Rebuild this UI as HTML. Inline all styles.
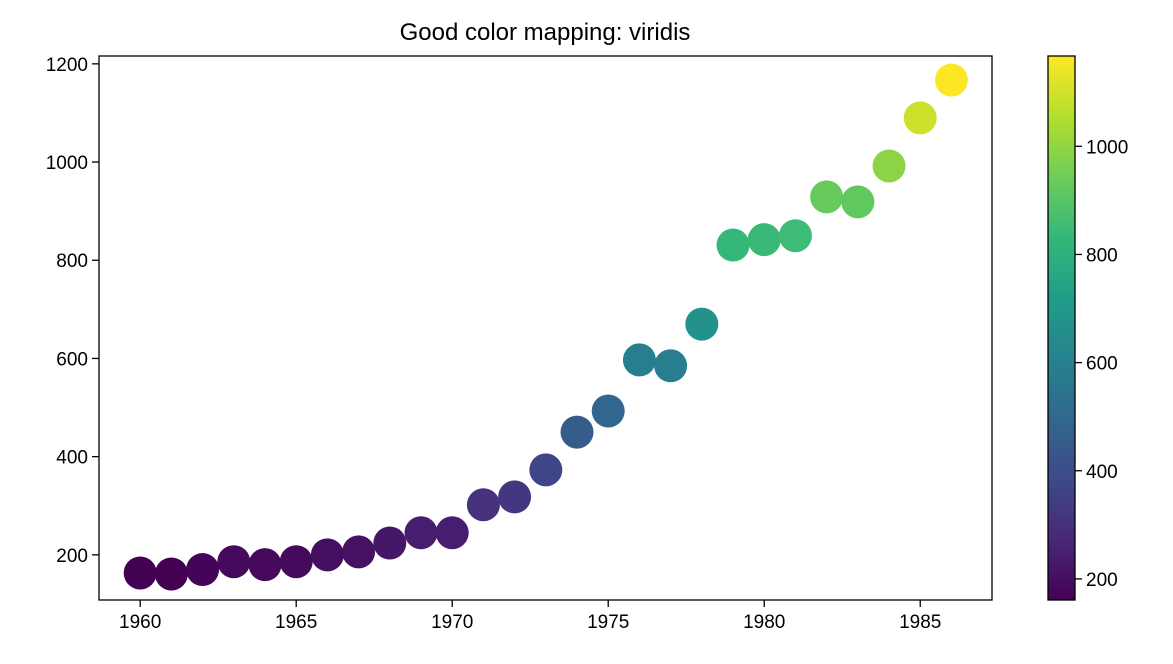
<!DOCTYPE html>
<html><head><meta charset="utf-8"><style>
body{margin:0;background:#fff;font-family:"Liberation Sans","DejaVu Sans",sans-serif}
</style></head><body>
<svg id="chart" width="1173" height="659" xmlns="http://www.w3.org/2000/svg"></svg>
<script>
const years=[1960,1961,1962,1963,1964,1965,1966,1967,1968,1969,1970,1971,1972,1973,1974,1975,1976,1977,1978,1979,1980,1981,1982,1983,1984,1985,1986];
const values=[163,161,170,186,180,186,200,206,224,245,245,302,318,373,450,493,597,585,670,831,842,850,929,919,992,1090,1167];
const xTicks=[1960,1965,1970,1975,1980,1985];
const yTicks=[200,400,600,800,1000,1200];
const cbTicks=[200,400,600,800,1000];

const svg=document.getElementById('chart');
const NS='http://www.w3.org/2000/svg';
function mk(t,a,p){const e=document.createElementNS(NS,t);for(const k in a)e.setAttribute(k,a[k]);(p||svg).appendChild(e);return e;}
const L=99,R=992,T=56,B=600;
const xMin=1958.68,xMax=1987.3,yMin=108,yMax=1216;
const sx=v=>L+(v-xMin)/(xMax-xMin)*(R-L);
const sy=v=>B-(v-yMin)/(yMax-yMin)*(B-T);
const vmin=Math.min(...values),vmax=Math.max(...values);
const vir=[[68,1,84],[72,40,120],[62,74,137],[49,104,142],[38,130,142],[31,158,137],[53,183,121],[109,205,89],[180,222,44],[253,231,37]];
function cmap(t){t=Math.max(0,Math.min(1,t));const f=t*(vir.length-1),i=Math.min(vir.length-2,Math.floor(f)),r=f-i;const c=vir[i].map((v,k)=>Math.round(v+(vir[i+1][k]-v)*r));return `rgb(${c})`;}

let tt=mk('text',{x:545,y:40,'text-anchor':'middle','font-size':'24',fill:'#000'});tt.textContent='Good color mapping: viridis';



xTicks.forEach(v=>{const x=sx(v);mk('line',{x1:x,x2:x,y1:B,y2:B+7,stroke:'#000','stroke-width':1.3});
const t=mk('text',{x:x,y:B+28,'text-anchor':'middle','font-size':'19'});t.textContent=v;

});
yTicks.forEach(v=>{const y=sy(v);mk('line',{x1:L-7,x2:L,y1:y,y2:y,stroke:'#000','stroke-width':1.3});
const t=mk('text',{x:L-11,y:y+7,'text-anchor':'end','font-size':'19'});t.textContent=v;

});

years.forEach((yr,i)=>{const c=mk('circle',{cx:sx(yr),cy:sy(values[i]),r:16.5,fill:cmap((values[i]-vmin)/(vmax-vmin))});

});
const fr=mk('rect',{x:L,y:T,width:R-L,height:B-T,fill:'none',stroke:'#000','stroke-width':1.3});



// colorbar
const CL=1048,CR=1075;
const defs=mk('defs',{});const g=mk('linearGradient',{id:'vg',x1:0,y1:1,x2:0,y2:0},defs);
vir.forEach((c,i)=>mk('stop',{offset:i/(vir.length-1),'stop-color':`rgb(${c})`},g));
const cb=mk('rect',{x:CL,y:T,width:CR-CL,height:B-T,fill:'url(#vg)',stroke:'#000','stroke-width':1.3});


const cy=v=>B-(v-vmin)/(vmax-vmin)*(B-T);
cbTicks.forEach(v=>{const y=cy(v);mk('line',{x1:CR,x2:CR+7,y1:y,y2:y,stroke:'#000','stroke-width':1.3});
const t=mk('text',{x:CR+11,y:y+7,'font-size':'19'});t.textContent=v;

});
</script>
</body></html>
